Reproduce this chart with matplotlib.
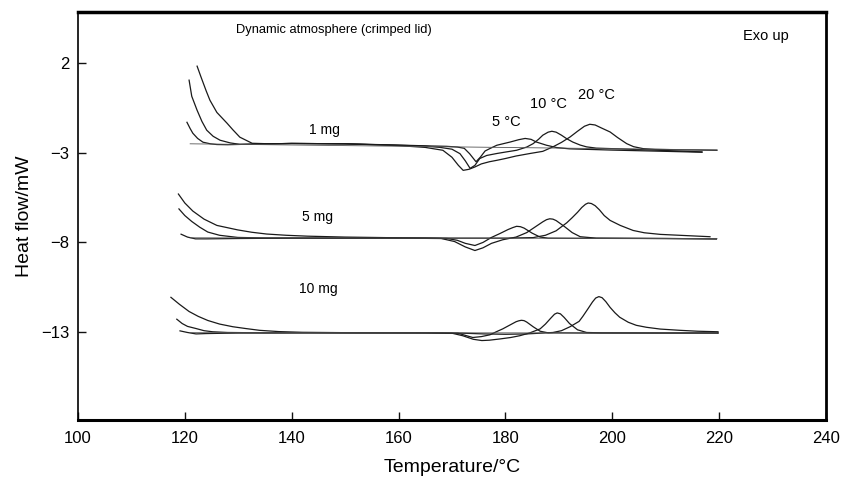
import matplotlib
matplotlib.use("Agg")
import matplotlib.pyplot as plt

plt.rcParams['font.family'] = ['Liberation Sans', 'DejaVu Sans']

# ---- 1 mg curves (temperature / heat flow) ----
t_1mg_5 = [120.4, 121.0, 121.5, 122.4, 123.4, 124.8, 126.0, 128, 132, 140, 150, 160, 166, 169, 171, 172.3,
           173.3, 174.5, 175.3, 176.2, 177.2, 178.4, 180.9, 182.5, 183.7, 184.8, 185.8, 187.7, 189.6, 192,
           200, 210, 216.8]
h_1mg_5 = [-1.30, -1.65, -1.91, -2.20, -2.41, -2.50, -2.54, -2.55, -2.52, -2.48, -2.50, -2.57, -2.62, -2.64,
           -2.68, -2.75, -3.05, -3.50, -3.25, -2.90, -2.75, -2.58, -2.40, -2.27, -2.20, -2.25, -2.40, -2.58,
           -2.71, -2.78, -2.85, -2.92, -2.97]

t_1mg_10 = [120.8, 121.3, 122.3, 123.2, 124.1, 125.3, 126.6, 128.5, 130.3, 133, 140, 150, 160, 165, 167.8,
            170, 171.5, 172.5, 173.4, 174.3, 175.2, 176.5, 178.4, 180, 182.1, 184, 185.2, 186.2, 187, 188,
            188.7, 189.5, 190.5, 191.5, 192.6, 194, 195.2, 197, 205, 216.8]
h_1mg_10 = [1.05, 0.15, -0.63, -1.25, -1.74, -2.08, -2.30, -2.45, -2.53, -2.52, -2.48, -2.50, -2.58, -2.63,
            -2.70, -2.80, -3.05, -3.45, -3.87, -3.70, -3.32, -3.15, -3.04, -2.96, -2.86, -2.68, -2.49, -2.25,
            -2.02, -1.85, -1.80, -1.85, -2.02, -2.22, -2.40, -2.57, -2.67, -2.74, -2.82, -2.95]

t_1mg_20 = [122.3, 123.0, 124.0, 124.7, 126.0, 127.9, 129.0, 130.3, 132.6, 136, 140, 150, 160, 165, 168.3,
            170, 171.2, 172.1, 173.2, 174.3, 175.5, 177, 178.4, 180, 182, 184.6, 187, 188.9, 190.5, 192.1,
            193.5, 194.8, 195.8, 196.8, 198, 199.6, 201, 202.7, 204, 205.8, 208, 212, 219.6]
h_1mg_20 = [1.83, 1.25, 0.45, -0.07, -0.75, -1.35, -1.72, -2.13, -2.47, -2.50, -2.48, -2.50, -2.60, -2.70,
            -2.86, -3.25, -3.70, -3.98, -3.92, -3.79, -3.62, -3.50, -3.42, -3.32, -3.18, -3.04, -2.92, -2.67,
            -2.42, -2.12, -1.80, -1.52, -1.41, -1.45, -1.62, -1.84, -2.15, -2.49, -2.66, -2.77, -2.81, -2.83,
            -2.86]

# ---- 5 mg curves ----
t_5mg_5 = [119.3, 120.5, 122, 124, 130, 140, 150, 160, 165, 169.1, 171, 172.5, 174.3, 175.8, 177.4, 179,
           180.5, 181.4, 182.1, 182.8, 183.5, 185, 186.5, 188, 195, 210, 219.5]
h_5mg_5 = [-7.54, -7.70, -7.80, -7.80, -7.78, -7.76, -7.76, -7.76, -7.76, -7.78, -7.88, -8.05, -8.17, -8.00,
           -7.72, -7.50, -7.28, -7.17, -7.10, -7.12, -7.20, -7.48, -7.70, -7.76, -7.77, -7.78, -7.80]

t_5mg_10 = [118.9, 120, 121.3, 122.8, 124.3, 126.5, 129.9, 135, 145, 160, 168, 170.5, 172.5, 174.3, 175.8,
            177.4, 179.5, 182, 184, 185.5, 187, 187.7, 188.3, 188.9, 189.5, 191, 192.5, 194, 197, 210, 219.5]
h_5mg_10 = [-6.13, -6.50, -6.83, -7.15, -7.42, -7.60, -7.72, -7.75, -7.76, -7.76, -7.78, -7.95, -8.25, -8.45,
            -8.30, -8.05, -7.85, -7.70, -7.45, -7.15, -6.85, -6.73, -6.68, -6.70, -6.78, -7.10, -7.45, -7.68,
            -7.76, -7.78, -7.80]

t_5mg_20 = [118.8, 120, 121.5, 123.6, 126, 129.9, 132.5, 135.3, 139, 143, 150, 160, 170, 180, 185.2, 187.5,
            189.5, 191.5, 192.5, 193.5, 194.3, 195.0, 195.5, 196.1, 196.8, 197.6, 198.5, 199.6, 201.5, 203.9,
            206, 209, 214, 218.3]
h_5mg_20 = [-5.30, -5.80, -6.25, -6.70, -7.05, -7.30, -7.43, -7.53, -7.60, -7.65, -7.70, -7.74, -7.76, -7.76,
            -7.73, -7.60, -7.35, -6.90, -6.62, -6.32, -6.05, -5.87, -5.80, -5.83, -5.95, -6.18, -6.50, -6.77,
            -7.05, -7.33, -7.46, -7.55, -7.62, -7.68]

# ---- 10 mg curves ----
t_10mg_5 = [119.1, 120.5, 122.1, 124, 130, 140, 150, 160, 168, 171.1, 172.5, 173.9, 175.5, 177.1, 178.3,
            179.5, 181, 182, 182.5, 183, 183.5, 184, 185.2, 186.5, 188, 195, 210, 219.8]
h_10mg_5 = [-12.93, -13.02, -13.10, -13.08, -13.05, -13.04, -13.04, -13.04, -13.04, -13.06, -13.18, -13.30,
            -13.25, -13.15, -12.98, -12.82, -12.58, -12.42, -12.37, -12.34, -12.36, -12.44, -12.70, -12.95,
            -13.04, -13.05, -13.05, -13.05]

t_10mg_10 = [118.5, 119.5, 120.5, 122.1, 123.6, 125.2, 128, 135, 150, 165, 170, 172, 174, 175.6, 177, 179,
             181, 182.7, 184.5, 186.5, 187.5, 188.5, 189.2, 189.7, 190.3, 191, 192, 193.5, 195.2, 198, 210,
             219.8]
h_10mg_10 = [-12.28, -12.52, -12.68, -12.80, -12.92, -12.98, -13.02, -13.04, -13.04, -13.04, -13.06, -13.20,
             -13.40, -13.47, -13.45, -13.38, -13.30, -13.20, -13.05, -12.82, -12.55, -12.22, -12.00, -11.93,
             -11.98, -12.18, -12.52, -12.87, -13.02, -13.04, -13.05, -13.05]

t_10mg_20 = [117.4, 119, 120.8, 122.5, 124.3, 126.5, 129, 131.4, 134, 137.6, 142, 150, 165, 172, 176, 180,
             184, 188.9, 190.5, 192.1, 193.8, 194.5, 195.5, 196.3, 196.9, 197.5, 198.1, 198.8, 199.6, 200.5,
             201.4, 203, 204.5, 206.4, 209, 212.7, 216, 219.8]
h_10mg_20 = [-11.06, -11.45, -11.85, -12.12, -12.35, -12.55, -12.70, -12.80, -12.90, -12.97, -13.01, -13.03,
             -13.04, -13.06, -13.10, -13.12, -13.10, -13.02, -12.92, -12.70, -12.40, -12.12, -11.68, -11.32,
             -11.10, -11.02, -11.08, -11.30, -11.62, -11.92, -12.17, -12.45, -12.62, -12.73, -12.83, -12.90,
             -12.95, -12.98]

# straight baselines under each group
base_t = [121, 219.6]
base_1mg = [-2.50, -2.84]
base_5mg = [-7.74, -7.78]
base_10mg = [-13.03, -13.05]

curves = [(t_1mg_5, h_1mg_5), (t_1mg_10, h_1mg_10), (t_1mg_20, h_1mg_20),
          (t_5mg_5, h_5mg_5), (t_5mg_10, h_5mg_10), (t_5mg_20, h_5mg_20),
          (t_10mg_5, h_10mg_5), (t_10mg_10, h_10mg_10), (t_10mg_20, h_10mg_20)]

fig = plt.figure(figsize=(8.41, 4.80), dpi=100)
ax = fig.add_axes([0.0927, 0.125, 0.8894, 0.85])

for t, h in curves:
    ax.plot(t, h, color='#1a1a1a', lw=0.9, solid_joinstyle='round')
for b in (base_1mg, base_5mg, base_10mg):
    ax.plot(base_t, b, color='#555555', lw=0.6)

ax.set_xlim(100, 240)
ax.set_ylim(-17.9, 4.85)
ax.set_xticks([100, 120, 140, 160, 180, 200, 220, 240])
ax.set_yticks([2, -3, -8, -13])
ax.set_yticklabels(['2', '\u22123', '\u22128', '\u221213'])
ax.tick_params(direction='in', labelsize=12, length=6, width=1, color='#111111')
ax.tick_params(axis='x', pad=8)
ax.tick_params(axis='y', pad=6)

ax.spines['left'].set_linewidth(1.2)
ax.spines['bottom'].set_linewidth(2.2)
ax.spines['top'].set_linewidth(2.5)
ax.spines['right'].set_linewidth(2.0)

ax.set_xlabel('Temperature/\u00b0C', fontsize=14, labelpad=9)
ax.set_ylabel('Heat flow/mW', fontsize=14, labelpad=6)

ax.text(147.9, 3.84, 'Dynamic atmosphere (crimped lid)', fontsize=9.3, ha='center', va='center')
ax.text(228.8, 3.5, 'Exo up', fontsize=10.5, ha='center', va='center')
ax.text(146.2, -1.74, '1 mg', fontsize=10, ha='center', va='center')
ax.text(144.9, -6.6, '5 mg', fontsize=10, ha='center', va='center')
ax.text(144.9, -10.57, '10 mg', fontsize=10, ha='center', va='center')
ax.text(180.1, -1.3, '5 \u00b0C', fontsize=10.5, ha='center', va='center')
ax.text(188.0, -0.29, '10 \u00b0C', fontsize=10.5, ha='center', va='center')
ax.text(197.1, 0.21, '20 \u00b0C', fontsize=10.5, ha='center', va='center')

fig.savefig('out.png', dpi=100)
